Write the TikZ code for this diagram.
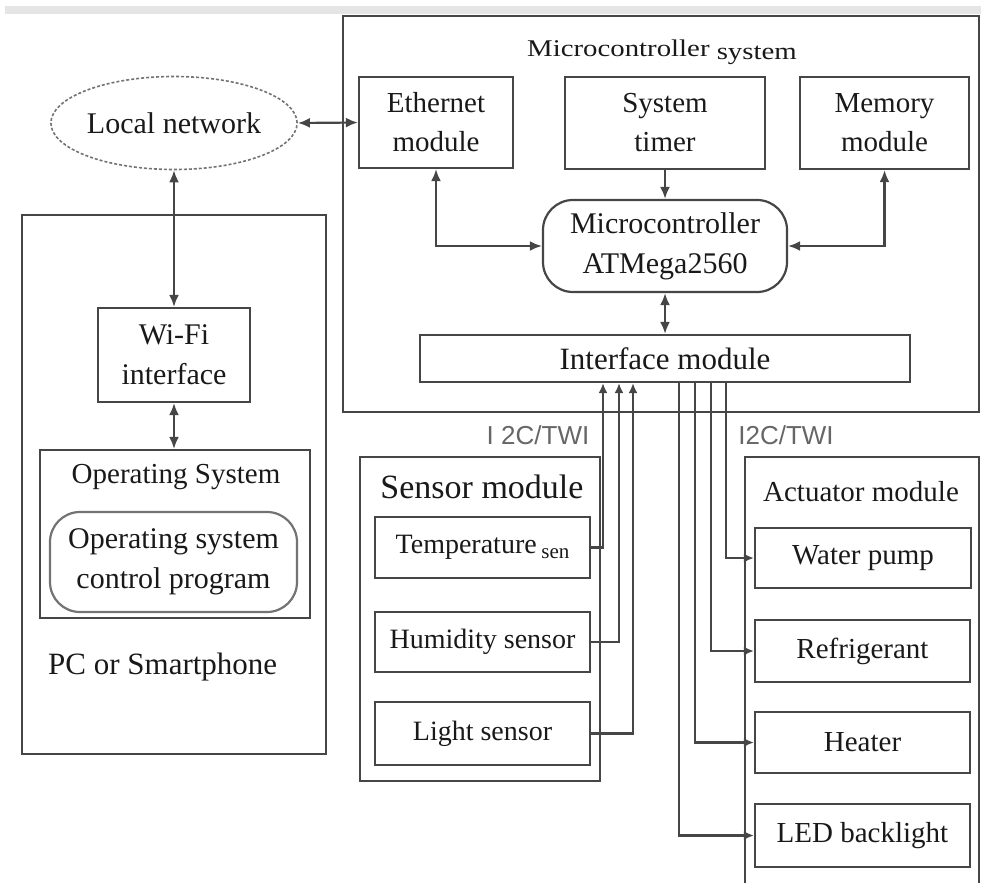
\documentclass[tikz,border=0pt]{standalone}
\usepackage{fontspec}
\setmainfont{Liberation Serif}
\newfontfamily\labelsans{Liberation Sans}
\usetikzlibrary{shapes.geometric,arrows.meta}
\newcommand{\fsz}[2]{\fontsize{#1}{#2}\selectfont}
\definecolor{linec}{RGB}{70,70,70}
\definecolor{textc}{RGB}{25,25,25}
\begin{document}
\begin{tikzpicture}[x=1pt,y=-1pt,
  box/.style={draw=linec, line width=2.2pt, align=center, inner sep=0pt, text=textc, font=\fsz{29}{39}},
  rbox/.style={box, rounded corners=30pt},
  frame/.style={draw=linec, line width=2.2pt},
  lbl/.style={inner sep=0pt, text=textc, font=\fsz{29}{39}},
  bus/.style={inner sep=0pt, text=black!60, font=\labelsans\fsz{26}{30}},
  conn/.style={draw=linec, line width=2.2pt},
  arr/.style={conn, -{Latex[length=12pt,width=10pt]}},
  arrb/.style={conn, {Latex[length=12pt,width=10pt]}-{Latex[length=12pt,width=10pt]}},
  sarr/.style={conn, -{Latex[length=10pt,width=9pt]}}
]
\useasboundingbox (0,0) rectangle (981,883);
\fill[black!10] (5,6) rectangle (981,14);

% outer frames
\draw[frame] (343,16) rectangle (979,412);
\draw[frame] (22,215) rectangle (326,754);
\draw[frame] (360,457) rectangle (600,781);
\draw[frame] (745,883) -- (745,457) -- (979,457) -- (979,883);

% titles
\node[lbl, font=\fsz{24}{28}, xscale=1.2] (mcstitle) at (662,52) {Microcontroller \raisebox{-3pt}{system}};
\node[lbl] (ostitle) at (176,477) {Operating System};
\node[lbl, font=\fsz{31}{38}, anchor=west] (pctitle) at (48,667) {PC or Smartphone};
\node[lbl, font=\fsz{34}{40}] (senstitle) at (482,487) {Sensor module};
\node[lbl] (acttitle) at (861,492) {Actuator module};
\node[bus] (bus1) at (538,435) {I 2C/TWI};
\node[bus] (bus2) at (786,435) {I2C/TWI};

% nodes
\node[draw=black!55, line width=1.6pt, densely dashed, ellipse, minimum width=244pt, minimum height=93pt, inner sep=0pt, text=textc, font=\fsz{30}{38}] (net) at (174,123) {Local network};
\node[box, minimum width=154pt, minimum height=91pt] (eth) at (436,122.5) {Ethernet\\module};
\node[box, minimum width=200pt, minimum height=92pt] (timer) at (665,123) {System\\timer};
\node[box, minimum width=169pt, minimum height=92pt] (mem) at (884.5,123) {Memory\\module};
\node[rbox, minimum width=244pt, minimum height=92pt, font=\fsz{30}{40}] (mcu) at (665,246) {Microcontroller\\ATMega2560};
\node[box, minimum width=490pt, minimum height=47pt, font=\fsz{31}{38}] (iface) at (665,358.5) {Interface module};

\node[box, minimum width=152pt, minimum height=94pt, font=\fsz{30}{40}] (wifi) at (174,355) {Wi-Fi\\interface};
\node[box, minimum width=270pt, minimum height=168pt] (os) at (175,534) {};
\node[rbox, draw=black!55, minimum width=247pt, minimum height=100pt, font=\fsz{30}{40}] (osprog) at (173.5,562) {Operating system\\control program};

\node[box, minimum width=215pt, minimum height=61pt, font=\fsz{28}{34}] (temp) at (482.5,547.5) {Temperature\,{\fsz{21}{24}\raisebox{-5pt}{sen}}};
\node[box, minimum width=215pt, minimum height=60pt, font=\fsz{28}{34}] (hum) at (482.5,642) {Humidity sensor};
\node[box, minimum width=215pt, minimum height=63pt, font=\fsz{28}{34}] (light) at (482.5,733.5) {Light sensor};

\node[box, minimum width=216pt, minimum height=60pt] (wp) at (863,558) {Water pump};
\node[box, minimum width=215pt, minimum height=62pt] (ref) at (862.5,651) {Refrigerant};
\node[box, minimum width=215pt, minimum height=61pt] (heat) at (862.5,742.5) {Heater};
\node[box, minimum width=215pt, minimum height=63pt] (led) at (862.5,835.5) {LED backlight};

% connectors
\draw[arrb] (net.east) -- (eth.west);
\draw[arrb] (net.south) -- (wifi.north);
\draw[arrb] (wifi.south) -- (wifi.south |- os.north);
\draw[arrb] (eth.south) |- (mcu.west);
\draw[arr] (timer.south) -- (mcu.north);
\draw[arrb] (mcu.east) -| (mem.south);
\draw[arrb] (mcu.south) -- (iface.north);

\draw[sarr] (temp.east) -| (603,0 |- iface.south);
\draw[sarr] (hum.east) -| (619,0 |- iface.south);
\draw[sarr] (light.east) -| (633,0 |- iface.south);

\draw[sarr] (726,0 |- iface.south) |- (wp.west);
\draw[sarr] (711,0 |- iface.south) |- (ref.west);
\draw[sarr] (695,0 |- iface.south) |- (heat.west);
\draw[sarr] (679,0 |- iface.south) |- (led.west);
\end{tikzpicture}
\end{document}
